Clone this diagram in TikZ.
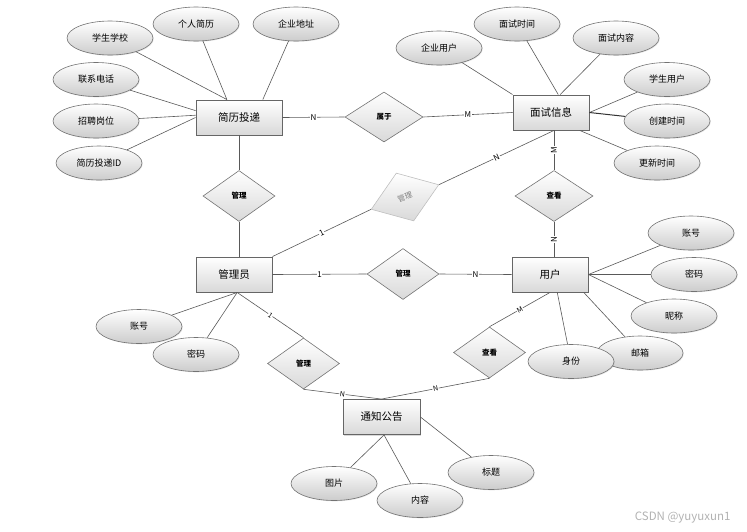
\documentclass[tikz,border=0pt]{standalone}
\usepackage{fontspec}
\setmainfont{Noto Sans CJK SC}
\usetikzlibrary{shapes.geometric,shadows}
\tikzset{
  entity/.style={rectangle,draw=black!60,line width=0.9pt,top color=white,bottom color=black!15,
    minimum width=76pt,minimum height=35pt,inner sep=0pt,font=\fontsize{10.5}{12}\selectfont,
    drop shadow={shadow xshift=1.2pt,shadow yshift=-1.2pt,opacity=0.3}},
  attr/.style={ellipse,draw=black!55,line width=0.6pt,top color=white,bottom color=black!20,
    minimum width=86pt,minimum height=34pt,inner sep=0pt,font=\fontsize{9}{11}\selectfont,
    drop shadow={shadow xshift=0.8pt,shadow yshift=-0.8pt,opacity=0.2}},
  rel/.style={diamond,draw=black!55,line width=0.6pt,top color=white,bottom color=black!15,
    minimum width=72pt,minimum height=51pt,inner sep=0pt,font=\bfseries\fontsize{7.5}{9}\selectfont},
  link/.style={draw=black!65,line width=0.6pt},
  card/.style={fill=white,inner sep=0.6pt,font=\fontsize{8}{9}\selectfont}
}
\begin{document}
\begin{tikzpicture}[x=1pt,y=-1pt]
\useasboundingbox (0,0) rectangle (747,531);
% entities
\node[entity,minimum width=86pt] (jltd) at (239,117.5) {简历投递};
\node[entity] (msxx) at (551,112.5) {面试信息};
\node[entity] (gly) at (234,274.5) {管理员};
\node[entity] (yh) at (550,274.5) {用户};
\node[entity,minimum width=77pt] (tzgg) at (381.5,417) {通知公告};
% relations
\node[rel,minimum width=78pt,minimum height=50pt] (sy) at (384,117) {属于};
\node[rel] (gl1) at (239,196) {管理};
\node[rel,draw=black!25,text=black!50,font=\fontsize{7.5}{9}\selectfont,rotate=20] (gl2) at (405,197) {管理};
\node[rel,minimum width=78pt] (ck1) at (554,196) {查看};
\node[rel] (gl3) at (403,274) {管理};
\node[rel] (gl4) at (303.5,363.5) {管理};
\node[rel] (ck2) at (489.5,352.5) {查看};
% attributes
\node[attr] (xsxx) at (110,38) {学生学校};
\node[attr] (grjl) at (196,24) {个人简历};
\node[attr] (qydz) at (296,24) {企业地址};
\node[attr] (lxdh) at (96,79.5) {联系电话};
\node[attr] (zpgw) at (96,121) {招聘岗位};
\node[attr] (tdid) at (99,163) {简历投递ID};
\node[attr] (qyyh) at (439,48) {企业用户};
\node[attr] (mssj) at (517,24) {面试时间};
\node[attr] (msnr) at (616,38) {面试内容};
\node[attr] (xsyh) at (667,79.5) {学生用户};
\node[attr] (cjsj) at (667,121) {创建时间};
\node[attr] (gxsj) at (657,163) {更新时间};
\node[attr] (zh1) at (139,326.5) {账号};
\node[attr] (mm1) at (196,354.5) {密码};
\node[attr] (zh2) at (691,233) {账号};
\node[attr] (mm2) at (694,274.5) {密码};
\node[attr] (nc) at (674,316) {昵称};
\node[attr] (yx) at (640,353) {邮箱};
\node[attr] (sf) at (571,361.5) {身份};
\node[attr] (tp) at (334,483.5) {图片};
\node[attr] (nr) at (420,500.5) {内容};
\node[attr] (bt) at (491,472.5) {标题};
% attribute links
\draw[link] (xsxx) -- (jltd.124);
\draw[link] (grjl) -- (jltd.124);
\draw[link] (qydz) -- (jltd.37);
\draw[link] (lxdh) -- (jltd.171);
\draw[link] (zpgw) -- (jltd.177);
\draw[link] (tdid) -- (jltd.west);
\draw[link] (qyyh) -- (msxx.north west);
\draw[link] (mssj) -- (msxx.68);
\draw[link] (msnr) -- (msxx.63);
\draw[link] (xsyh) -- (msxx.east);
\draw[link,line width=1pt,draw=black!80] (cjsj) -- (msxx.east);
\draw[link] (gxsj) -- (msxx.-32);
\draw[link] (zh1) -- (gly.-80);
\draw[link] (mm1) -- (gly.-80);
\draw[link] (zh2) -- (yh.east);
\draw[link] (mm2) -- (yh.east);
\draw[link] (nc) -- (yh.east);
\draw[link] (yx) -- (yh.-28);
\draw[link] (sf) -- (yh.-68);
\draw[link] (tp) -- (tzgg.-82);
\draw[link] (nr) -- (tzgg.-82);
\draw[link] (bt) -- (tzgg.east);
% relation links
\draw[link] (jltd.east) -- node[card] {N} (sy.west);
\draw[link] (sy.east) -- node[card] {M} (msxx.west);
\draw[link] (jltd.south) -- (gl1.north);
\draw[link] (gl1.south) -- (gl1.south |- gly.north);
\draw[link] (gly.north east) -- node[card,sloped] {1} (gl2.west);
\draw[link] (gl2.east) -- node[card,sloped] {N} (msxx.south -| ck1.north);
\draw[link] (msxx.south -| ck1.north) -- node[card,rotate=90] {M} (ck1.north);
\draw[link] (ck1.south) -- node[card,rotate=90] {N} (ck1.south |- yh.north);
\draw[link] (gly.east) -- node[card] {1} (gl3.west);
\draw[link] (gl3.east) -- node[card] {N} (yh.west);
\draw[link] (gly.-80) -- node[card,sloped,font=\fontsize{7}{8}\selectfont] {1} (gl4.north);
\draw[link] (gl4.south) -- node[card,sloped,font=\fontsize{7}{8}\selectfont] {N} (tzgg.north);
\draw[link] (yh.south) -- node[card,sloped,font=\fontsize{7}{8}\selectfont] {M} (ck2.north);
\draw[link] (ck2.south) -- node[card,sloped,font=\fontsize{7}{8}\selectfont] {N} (tzgg.north);
% watermark
\node[text=black!30,font=\fontsize{11.5}{13}\selectfont,anchor=east] (wm) at (734,518) {CSDN @yuyuxun1};
\end{tikzpicture}
\end{document}
